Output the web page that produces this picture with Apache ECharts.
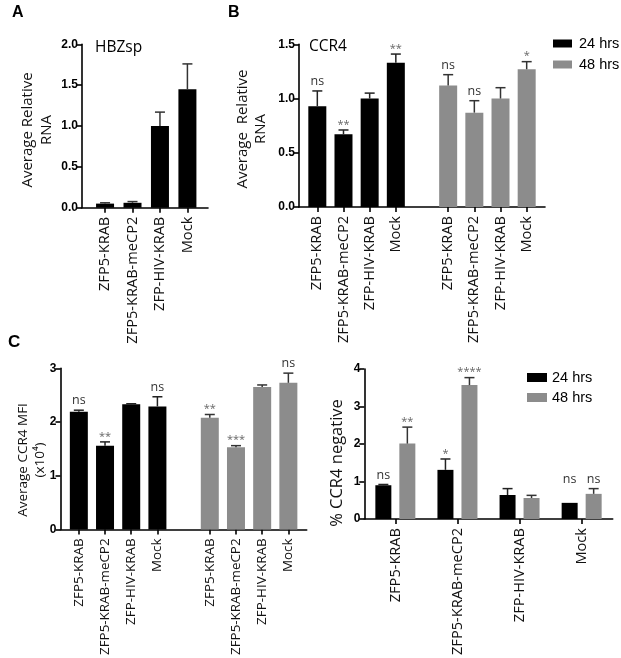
<!DOCTYPE html>
<html><head><meta charset="utf-8">
<script src="https://cdn.jsdelivr.net/npm/echarts@6/dist/echarts.min.js"></script>
<style>html,body{margin:0;padding:0;background:#fff}#c{width:621px;height:658px}</style>
</head><body><div id="c"></div>
<script>
// ---------- data ----------
const groups = ['ZFP5-KRAB', 'ZFP5-KRAB-meCP2', 'ZFP-HIV-KRAB', 'Mock'];
const seriesNames = ['24 hrs', '48 hrs'];

// Panel A : HBZsp
const aValues = [0.05, 0.06, 1.00, 1.45];
const aErrors = [0.01, 0.015, 0.17, 0.31];

// Panel B : CCR4 RNA
const b24Values = [0.93, 0.67, 1.00, 1.33];
const b24Errors = [0.14, 0.04, 0.05, 0.08];
const b24Sig = ['ns', '**', '', '**'];
const b48Values = [1.12, 0.87, 1.00, 1.27];
const b48Errors = [0.10, 0.11, 0.10, 0.07];
const b48Sig = ['ns', 'ns', '', '*'];

// Panel C left : CCR4 MFI (x10^4)
const c24Values = [2.19, 1.56, 2.33, 2.29];
const c24Errors = [0.03, 0.07, 0.01, 0.18];
const c24Sig = ['ns', '**', '', 'ns'];
const c48Values = [2.08, 1.53, 2.65, 2.73];
const c48Errors = [0.06, 0.03, 0.04, 0.18];
const c48Sig = ['**', '***', '', 'ns'];

// Panel C right : % CCR4 negative
const d24Values = [0.90, 1.31, 0.64, 0.43];
const d24Errors = [0.02, 0.29, 0.17, 0];
const d24Sig = ['ns', '*', '', 'ns'];
const d24SigAt = [null, null, null, 0.81];
const d48Values = [2.01, 3.57, 0.56, 0.67];
const d48Errors = [0.44, 0.20, 0.07, 0.14];
const d48Sig = ['**', '****', '', 'ns'];

// ---------- build ----------
const twoGroupCats = groups.concat([''], groups);   // spacer between 24 h and 48 h groups
const idxA = groups.map((g, i) => i);
const idx24 = groups.map((g, i) => i);
const idx48 = groups.map((g, i) => i + groups.length + 1);

const BLACK = '#000000', GRAY = '#8c8c8c';
const axisLineStyle = { color: '#000', width: 1.6 };

function valueX(grid, min, max, cats, fontSize) {
  const ticks = [];
  cats.forEach((c, i) => { if (c) ticks.push(i); });
  return {
    type: 'value', gridIndex: grid, min: min, max: max, splitLine: { show: false },
    axisLine: { show: true, onZero: false, lineStyle: axisLineStyle },
    axisTick: { show: true, customValues: ticks, length: 5, lineStyle: axisLineStyle },
    axisLabel: { customValues: ticks, rotate: 90, margin: 9, fontFamily: 'Open Sans', fontSize: fontSize,
      color: '#111', formatter: v => cats[Math.round(v)] || '' }
  };
}
function yAx(grid, max, interval, dec) {
  return {
    type: 'value', gridIndex: grid, min: 0, max: max, interval: interval, splitLine: { show: false },
    axisLine: { show: true, onZero: false, lineStyle: axisLineStyle },
    axisTick: { show: true, length: 5, lineStyle: axisLineStyle },
    axisLabel: { margin: 4, fontFamily: 'Liberation Sans', fontWeight: 'bold', fontSize: 12, color: '#000',
      formatter: v => v.toFixed(dec) }
  };
}
function bar(name, ai, xs, vals, color, width, gap) {
  return { type: 'bar', name: name, xAxisIndex: ai, yAxisIndex: ai, barWidth: width, barGap: gap,
    itemStyle: { color: color }, data: vals.map((v, i) => [xs[i], v]) };
}
function errs(ai, xs, vals, errors, sig, sigAt, offset, color) {
  return {
    type: 'custom', xAxisIndex: ai, yAxisIndex: ai, z: 5, silent: true,
    data: vals.map((v, i) => [xs[i], v, errors[i]]),
    renderItem: function (params, api) {
      const i = params.dataIndex;
      const x = api.value(0), v = api.value(1), e = api.value(2);
      const p0 = api.coord([x, v]), p1 = api.coord([x, v + e]);
      const cx = p0[0] + offset;
      const ch = [];
      if (e > 0) {
        ch.push({ type: 'line', shape: { x1: cx, y1: p0[1], x2: cx, y2: p1[1] }, style: { stroke: color, lineWidth: 1.5 } });
        ch.push({ type: 'line', shape: { x1: cx - 5, y1: p1[1], x2: cx + 5, y2: p1[1] }, style: { stroke: color, lineWidth: 1.5 } });
      }
      const s = sig ? sig[i] : '';
      if (s) {
        const lvl = (sigAt && sigAt[i] != null) ? sigAt[i] : v + e;
        const pt = api.coord([x, lvl]);
        const star = s.charAt(0) === '*';
        ch.push({ type: 'text', x: cx, y: pt[1] - (star ? 0 : 3),
          style: { text: s, fill: star ? '#666' : '#333', font: (star ? '11px' : '12.5px') + ' "Open Sans"',
            align: 'center', verticalAlign: 'bottom' } });
      }
      return { type: 'group', children: ch };
    }
  };
}
function rotTitle(x, y, text, size, lh) {
  return { type: 'text', x: x, y: y, rotation: Math.PI / 2,
    style: { text: text, font: size + 'px "Open Sans"', fill: '#111', align: 'center', verticalAlign: 'middle', lineHeight: lh } };
}
function plain(x, y, text, font) {
  return { type: 'text', x: x, y: y, style: { text: text, font: font, fill: '#000', align: 'left', verticalAlign: 'middle' } };
}

const option = {
  animation: false,
  backgroundColor: '#fff',
  grid: [
    { left: 82, top: 44.3, width: 126, height: 163.4 },
    { left: 299, top: 44.3, width: 246, height: 162.7 },
    { left: 60.5, top: 368.3, width: 246.2, height: 163.5 },
    { left: 364.3, top: 369, width: 248.4, height: 163.7 }
  ],
  xAxis: [
    valueX(0, -0.84, 3.75, groups, 14.6),
    valueX(1, -0.7, 8.7, twoGroupCats, 14.6),
    valueX(2, -0.7, 8.7, twoGroupCats, 13.4),
    { type: 'category', gridIndex: 3, data: groups, splitLine: { show: false },
      axisLine: { show: true, lineStyle: axisLineStyle },
      axisTick: { show: true, alignWithLabel: true, length: 5, lineStyle: axisLineStyle },
      axisLabel: { rotate: 90, margin: 9, interval: 0, fontFamily: 'Open Sans', fontSize: 14.6, color: '#111' } }
  ],
  yAxis: [
    yAx(0, 2, 0.5, 1),
    yAx(1, 1.5, 0.5, 1),
    yAx(2, 3, 1, 0),
    yAx(3, 4, 1, 0)
  ],
  legend: [
    { orient: 'vertical', left: 553, top: 36, padding: 0, data: seriesNames, icon: 'rect', itemWidth: 19, itemHeight: 8,
      itemGap: 6, selectedMode: false, textStyle: { fontFamily: 'Liberation Sans', fontSize: 14.5, color: '#000', padding: [0, 0, 0, 2] } },
    { orient: 'vertical', left: 527, top: 370, padding: 0, data: seriesNames, icon: 'rect', itemWidth: 20, itemHeight: 9,
      itemGap: 5, selectedMode: false, textStyle: { fontFamily: 'Liberation Sans', fontSize: 14.5, color: '#000' } }
  ],
  series: [
    bar('HBZsp', 0, idxA, aValues, BLACK, 18, '-100%'),
    errs(0, idxA, aValues, aErrors, null, null, 0, '#333'),

    bar(seriesNames[0], 1, idx24, b24Values, BLACK, 18, '-100%'),
    bar(seriesNames[1], 1, idx48, b48Values, GRAY, 18, '-100%'),
    errs(1, idx24, b24Values, b24Errors, b24Sig, null, 0, '#222'),
    errs(1, idx48, b48Values, b48Errors, b48Sig, null, 0, '#333'),

    bar(seriesNames[0], 2, idx24, c24Values, BLACK, 18, '-100%'),
    bar(seriesNames[1], 2, idx48, c48Values, GRAY, 18, '-100%'),
    errs(2, idx24, c24Values, c24Errors, c24Sig, null, 0, '#222'),
    errs(2, idx48, c48Values, c48Errors, c48Sig, null, 0, '#333'),

    bar(seriesNames[0], 3, idxA, d24Values, BLACK, 16, '50%'),
    bar(seriesNames[1], 3, idxA, d48Values, GRAY, 16, '50%'),
    errs(3, idxA, d24Values, d24Errors, d24Sig, d24SigAt, -12, '#222'),
    errs(3, idxA, d48Values, d48Errors, d48Sig, null, 12, '#333')
  ],
  graphic: [
    plain(12, 13, 'A', 'bold 16px "Liberation Sans"'),
    plain(228, 13, 'B', 'bold 16px "Liberation Sans"'),
    plain(8, 342, 'C', 'bold 17px "Liberation Sans"'),
    plain(95, 48, 'HBZsp', '15.5px "Open Sans"'),
    plain(309, 47, 'CCR4', '15.5px "Open Sans"'),
    rotTitle(37.5, 130, 'Average Relative\nRNA', 15, 19),
    rotTitle(251.5, 129, 'Average  Relative\nRNA', 15, 18),
    rotTitle(31.5, 460, 'Average CCR4 MFI\n(x10⁴)', 13.5, 17),
    rotTitle(337, 463, '% CCR4 negative', 16.5, 20)
  ]
};
const chart = echarts.init(document.getElementById('c'), null, { renderer: 'canvas' });
chart.setOption(option);
</script>
</body></html>
